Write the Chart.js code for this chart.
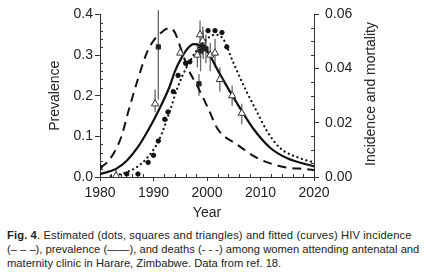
<!DOCTYPE html>
<html><head><meta charset="utf-8">
<script src="https://cdn.jsdelivr.net/npm/chart.js@4"></script>
<style>
html,body{margin:0;padding:0;background:#fff;}
#wrap{position:relative;width:424px;height:274px;overflow:hidden;font-family:"Liberation Sans",Arial,sans-serif;color:#222;}
#cbox{position:absolute;left:0;top:0;width:424px;height:222px;}
#rtitle{position:absolute;left:370px;top:94px;transform:translate(-50%,-50%) rotate(-90deg);font-size:14px;white-space:nowrap;color:#222;}
#cap{position:absolute;left:7px;top:228px;font-size:11.2px;line-height:14px;white-space:nowrap;color:#222;}
#l1{letter-spacing:0.12px;}
</style></head><body>
<div id="wrap">
<div id="cbox"><canvas id="c"></canvas></div>
<div id="rtitle">Incidence and mortality</div>
<div id="cap"><span id="l1"><b>Fig. 4</b>. Estimated (dots, squares and triangles) and fitted (curves) HIV incidence</span><br>(– – –), prevalence (——), and deaths (- - -) among women attending antenatal and<br>maternity clinic in Harare, Zimbabwe. Data from ref. 18.</div>
</div>
<script>
// Fitted prevalence curve (left axis)
const prevYears = [1980,1983,1985,1987,1989,1991,1993,1994,1995.3,1996.5,1997.5,1998.5,2000,2002.2,2004.3,2006.2,2008.6,2011.8,2015,2020];
const prevFit   = [0.007,0.02,0.04,0.072,0.115,0.165,0.222,0.26,0.295,0.318,0.327,0.325,0.31,0.258,0.21,0.169,0.12,0.072,0.046,0.026];
// Fitted incidence curve (right axis)
const incYears = [1980,1981.7,1983.9,1985.4,1987.1,1989,1991.8,1993.1,1994,1995,1996.5,1998.1,2000.2,2002,2005.6,2009.5,2014.6,2018.7,2020];
const incFit   = [0.0033,0.0062,0.0144,0.0249,0.0362,0.047,0.0539,0.0549,0.0533,0.048,0.0398,0.0339,0.0254,0.0177,0.012,0.0069,0.0036,0.0029,0.0026];
// Fitted deaths curve (right axis)
const dthYears = [1982,1983,1985,1987,1989,1991,1993,1994.5,1996,1998,2000,2001.5,2003,2004.9,2007.4,2009.3,2011.2,2013.6,2017.4,2020];
const dthFit   = [0.0003,0.0006,0.0018,0.0038,0.0075,0.0135,0.024,0.033,0.0398,0.0465,0.051,0.0525,0.051,0.0423,0.0315,0.0242,0.017,0.0108,0.0069,0.0054];
// Estimated deaths (dots, right axis)
const dotYears = [1980,1985,1987.1,1989,1990,1990.9,1992.1,1992.7,1993.7,1994.6,1996,1996.8,2000.2,2001.5,2002.8,2003.7];
const dotVals  = [0.0036,0.0011,0.0011,0.0054,0.008,0.0133,0.0213,0.024,0.0315,0.0375,0.042,0.0425,0.054,0.054,0.0533,0.048];
// Estimated prevalence (triangles, left axis) with error limits
const triYears = [1983,1990.3,1995,1998.2,1998.7,1999.2,2000.6,2001.5,2002.4,2004.7,2006.5];
const triVals  = [0.003,0.18,0.305,0.30,0.35,0.335,0.30,0.305,0.24,0.20,0.157];
const triLo    = [0.0,0.16,0.305,0.27,0.33,0.30,0.26,0.27,0.21,0.175,0.13];
const triHi    = [0.02,0.215,0.305,0.33,0.385,0.37,0.33,0.34,0.27,0.225,0.18];
// Estimated incidence (squares, right axis) with error limits
const sqYears = [1990.9,1998.5,1998.8,1999.3,1999.8];
const sqVals  = [0.048,0.0344,0.0465,0.048,0.0473];
const sqLo    = [0.0285,0.030,0.039,0.0435,0.042];
const sqHi    = [0.0615,0.038,0.051,0.054,0.0525];
// Axis ticks
const xTicks = [1980,1990,2000,2010,2020];
const yTicks = [0.0,0.1,0.2,0.3,0.4];
const y2Ticks = [0.00,0.02,0.04,0.06];

const pts = (xs, ys) => xs.map((x,i)=>({x:x,y:ys[i]}));
const FONT = {family:'"Liberation Sans", Arial, sans-serif', size:14};
const INK = '#111';

const errPlugin = {
  id:'errbars',
  beforeDatasetsDraw(chart){
    const ctx = chart.ctx, xs = chart.scales.x, y = chart.scales.y, y2 = chart.scales.y2;
    ctx.save();
    ctx.strokeStyle = '#666'; ctx.lineWidth = 1.3;
    const draw = (yrs, lo, hi, sc) => yrs.forEach((yr,i)=>{
      if (hi[i] - lo[i] <= 0) return;
      const px = xs.getPixelForValue(yr);
      ctx.beginPath(); ctx.moveTo(px, sc.getPixelForValue(lo[i])); ctx.lineTo(px, sc.getPixelForValue(hi[i])); ctx.stroke();
    });
    draw(triYears, triLo, triHi, y);
    draw(sqYears, sqLo, sqHi, y2);
    ctx.restore();
  },
  afterDraw(chart){
    const ctx = chart.ctx, xs = chart.scales.x, y = chart.scales.y, y2 = chart.scales.y2;
    const a = chart.chartArea;
    ctx.save(); ctx.strokeStyle = '#333'; ctx.lineWidth = 1;
    for (let v = 1982; v < 2020; v += 2) { if (v % 10 === 0) continue;
      const px = Math.round(xs.getPixelForValue(v)) + 0.5;
      ctx.beginPath(); ctx.moveTo(px, a.bottom); ctx.lineTo(px, a.bottom - 3); ctx.stroke(); }
    for (let k = 1; k < 20; k++) { if (k % 5 === 0) continue;
      const py = Math.round(y.getPixelForValue(k*0.02)) + 0.5;
      ctx.beginPath(); ctx.moveTo(a.left, py); ctx.lineTo(a.left + 3, py); ctx.stroke(); }
    for (let k = 1; k < 12; k++) { if (k % 4 === 0) continue;
      const py = Math.round(y2.getPixelForValue(k*0.005)) + 0.5;
      ctx.beginPath(); ctx.moveTo(a.right, py); ctx.lineTo(a.right - 3, py); ctx.stroke(); }
    ctx.restore();
  }
};

new Chart(document.getElementById('c'), {
  type: 'line',
  data: {
    datasets: [
      {label:'Estimated prevalence', type:'scatter', data: pts(triYears, triVals), yAxisID:'y', pointStyle:'triangle', pointRadius:4.2, pointBackgroundColor:'#fff', pointBorderColor:'#333', pointBorderWidth:1, showLine:false, order:1},
      {label:'Estimated incidence', type:'scatter', data: pts(sqYears, sqVals), yAxisID:'y2', pointStyle:'rect', pointRadius:3, pointBackgroundColor:'#222', pointBorderColor:'#222', showLine:false, order:2},
      {label:'Estimated deaths', type:'scatter', data: pts(dotYears, dotVals), yAxisID:'y2', pointStyle:'circle', pointRadius:2.2, pointBackgroundColor:'#111', pointBorderColor:'#111', showLine:false, order:3},
      {label:'Prevalence', data: pts(prevYears, prevFit), yAxisID:'y', borderColor:INK, borderWidth:2.2, pointRadius:0, cubicInterpolationMode:'monotone', fill:false, order:4},
      {label:'Incidence', data: pts(incYears, incFit), yAxisID:'y2', borderColor:INK, borderWidth:2, borderDash:[9,6], pointRadius:0, cubicInterpolationMode:'monotone', fill:false, order:5},
      {label:'Deaths', data: pts(dthYears, dthFit), yAxisID:'y2', borderColor:INK, borderWidth:2.2, borderDash:[0.1,4.6], borderCapStyle:'round', pointRadius:0, cubicInterpolationMode:'monotone', fill:false, order:6}
    ]
  },
  options: {
    responsive:true, maintainAspectRatio:false, animation:false,
    layout:{padding:{top:11,left:0,right:0,bottom:0}},
    plugins:{legend:{display:false}, tooltip:{enabled:false}},
    scales:{
      x:{type:'linear', min:1980, max:2020,
        afterBuildTicks: s => { s.ticks = xTicks.map(v=>({value:v})); },
        afterFit: s => { s.height = 45; },
        ticks:{font:FONT, color:'#222', padding:4, maxRotation:0, callback:v=>String(v)},
        grid:{drawOnChartArea:false, drawTicks:true, tickLength:4, color:'#333'},
        border:{display:true, color:'#333', width:1},
        title:{display:true, text:'Year', font:FONT, color:'#222', padding:{top:0,bottom:0.6}}
      },
      y:{type:'linear', position:'left', min:0, max:0.4,
        afterBuildTicks: s => { s.ticks = yTicks.map(v=>({value:v})); },
        afterFit: s => { s.width = 100; },
        ticks:{font:FONT, color:'#222', padding:2, callback:v=>v.toFixed(1)},
        grid:{drawOnChartArea:false, drawTicks:true, tickLength:5, color:'#333'},
        border:{display:true, color:'#333', width:1},
        title:{display:true, text:'Prevalence', font:FONT, color:'#222', padding:{top:46.6,bottom:0}}
      },
      y2:{type:'linear', position:'right', min:0, max:0.06,
        afterBuildTicks: s => { s.ticks = y2Ticks.map(v=>({value:v})); },
        afterFit: s => { s.width = 110; },
        ticks:{font:FONT, color:'#222', padding:6, callback:v=>v.toFixed(2)},
        grid:{drawOnChartArea:false, drawTicks:true, tickLength:5, color:'#333'},
        border:{display:true, color:'#333', width:1}
      }
    }
  },
  plugins:[errPlugin]
});
</script>
</body></html>
